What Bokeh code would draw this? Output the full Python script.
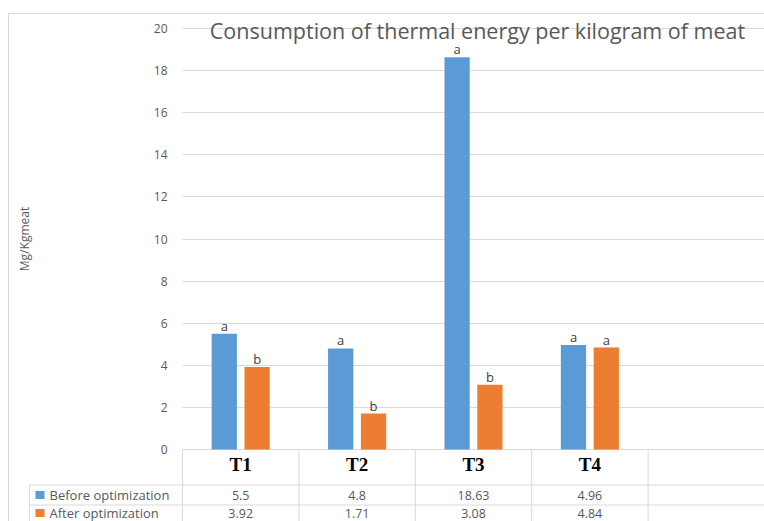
from bokeh.plotting import figure
from bokeh.layouts import column
from bokeh.models import ColumnDataSource, Range1d, FixedTicker, Label
from bokeh.core.properties import value
from bokeh.embed import file_html
from bokeh.resources import INLINE

# ---- data ----
categories = ["T1", "T2", "T3", "T4"]
before = [5.5, 4.8, 18.63, 4.96]
after = [3.92, 1.71, 3.08, 4.84]
letters_before = ["a", "a", "a", "a"]
letters_after = ["b", "b", "b", "a"]
series_names = ["Before optimization", "After optimization"]
y_ticks = [0, 2, 4, 6, 8, 10, 12, 14, 16, 18, 20]
title_text = "Consumption of thermal energy per kilogram of meat"
y_label = "Mg/Kgmeat"

BLUE = "#5B9BD5"
ORANGE = "#ED7D31"
GRID = "#D9D9D9"
TXT = "#595959"

# ---- layout (page pixels) ----
PAGE_W, PAGE_H = 764, 521
BOX_L, BOX_T = 8, 13            # chart border position
IN_L, IN_T = BOX_L + 1, BOX_T + 1
FRAME_L = 182                   # plot area left edge
ZERO_PY = 449.0                 # page y of value 0
TOP20_PY = 28.0                 # page y of value 20
n_cols = len(categories) + 1    # one empty column on the right
COL_W = (PAGE_W - FRAME_L) / n_cols
PPU = (ZERO_PY - TOP20_PY) / 20.0


def X(px):
    """page x -> column units (category i spans [i, i+1])"""
    return (px - FRAME_L) / COL_W


def Y(py):
    """page y -> value units"""
    return (ZERO_PY - py) / PPU


off = 0.141     # bar offset from category centre
bw = 0.217      # bar width
centres = [i + 0.5 for i in range(len(categories))]
src = ColumnDataSource(dict(
    cat=categories,
    pos=centres,
    xb=[c - off for c in centres],
    xa=[c + off for c in centres],
    before=before,
    after=after,
    lb=letters_before,
    la=letters_after,
    before_s=[str(v) for v in before],
    after_s=[str(v) for v in after],
))

W = PAGE_W - IN_L
H = PAGE_H - IN_T
p = figure(width=W, height=H, x_range=Range1d(X(IN_L), X(PAGE_W)),
           y_range=Range1d(Y(PAGE_H), Y(IN_T)), output_backend="svg",
           toolbar_location=None, x_axis_location=None)
p.min_border = 0
p.outline_line_color = None
p.background_fill_color = "white"
p.border_fill_color = "white"

p.xgrid.visible = False
p.ygrid.grid_line_color = GRID
p.ygrid.grid_line_width = 1

yax = p.yaxis[0]
yax.fixed_location = 0
yax.bounds = (y_ticks[0], y_ticks[-1])
yax.ticker = FixedTicker(ticks=y_ticks)
p.ygrid.ticker = yax.ticker
yax.axis_line_color = None
yax.major_tick_line_color = None
yax.minor_tick_line_color = None
yax.major_label_text_font = "Open Sans"
yax.major_label_text_font_size = "12px"
yax.major_label_text_color = TXT
yax.major_label_standoff = 9
yax.axis_label = y_label
yax.axis_label_text_font = "Open Sans"
yax.axis_label_text_font_size = "12px"
yax.axis_label_text_font_style = "normal"
yax.axis_label_text_color = TXT
yax.axis_label_standoff = 118

# white area left of the plot area (hides the gridlines there)
p.quad(left=[X(IN_L) - 1], right=[0], bottom=[Y(ZERO_PY + 1.5)], top=[Y(IN_T) + 1],
       fill_color="white", line_color=None)

# bars
p.vbar(x="xb", top="before", width=bw, source=src, fill_color=BLUE, line_color=None)
p.vbar(x="xa", top="after", width=bw, source=src, fill_color=ORANGE, line_color=None)

# significance letters
for xcol, col, lcol in (("xb", "before", "lb"), ("xa", "after", "la")):
    p.text(x=xcol, y=col, text=lcol, source=src,
           text_font=value("Open Sans"), text_font_size="13px",
           text_color="#404040", text_align="center",
           text_baseline="alphabetic", y_offset=-8)

# title (inside the plot area, over the top gridline)
p.add_layout(Label(x=X(477), y=Y(29.5), text=title_text, text_font="Open Sans",
                   text_font_size="21.5px", text_color=TXT,
                   text_align="center", text_baseline="middle"))

# ---- data table below the axis ----
ROW1_T, ROW2_T = 484.5, 504.5
TBL_L = 29
ybot = Y(PAGE_H + 10)
seps = [float(i) for i in range(n_cols)]
p.segment(x0=seps, x1=seps, y0=[0] * len(seps), y1=[ybot] * len(seps),
          line_color=GRID, line_width=1)
p.segment(x0=[X(TBL_L)] * 2, x1=[X(PAGE_W + 10)] * 2, y0=[Y(ROW1_T), Y(ROW2_T)],
          y1=[Y(ROW1_T), Y(ROW2_T)], line_color=GRID, line_width=1)
p.segment(x0=[X(TBL_L)], x1=[X(TBL_L)], y0=[Y(ROW1_T)], y1=[ybot],
          line_color=GRID, line_width=1)

key_py = [494.5, 512.5]
p.text(x="pos", y=Y(464), text="cat", source=src,
       text_font=value("Liberation Serif"), text_font_style="bold",
       text_font_size="19px", text_color="black",
       text_align="center", text_baseline="middle")
p.text(x="pos", y=Y(key_py[0]), text="before_s", source=src,
       text_font=value("Open Sans"), text_font_size="12.5px", text_color=TXT,
       text_align="center", text_baseline="middle")
p.text(x="pos", y=Y(key_py[1]), text="after_s", source=src,
       text_font=value("Open Sans"), text_font_size="12.5px", text_color=TXT,
       text_align="center", text_baseline="middle")

# legend keys in the table
p.quad(left=[X(35)] * 2, right=[X(44)] * 2, top=[Y(v - 4) for v in key_py],
       bottom=[Y(v + 4) for v in key_py], fill_color=[BLUE, ORANGE], line_color=None)
p.text(x=[X(49)] * 2, y=[Y(v) for v in key_py], text=series_names,
       text_font=value("Open Sans"), text_font_size="13px", text_color=TXT,
       text_align="left", text_baseline="middle")

layout = column(p, margin=(BOX_T, 0, 0, BOX_L),
                styles={"border-left": "1px solid " + GRID,
                        "border-top": "1px solid " + GRID})

open("out.html", "w").write(file_html(layout, INLINE))
